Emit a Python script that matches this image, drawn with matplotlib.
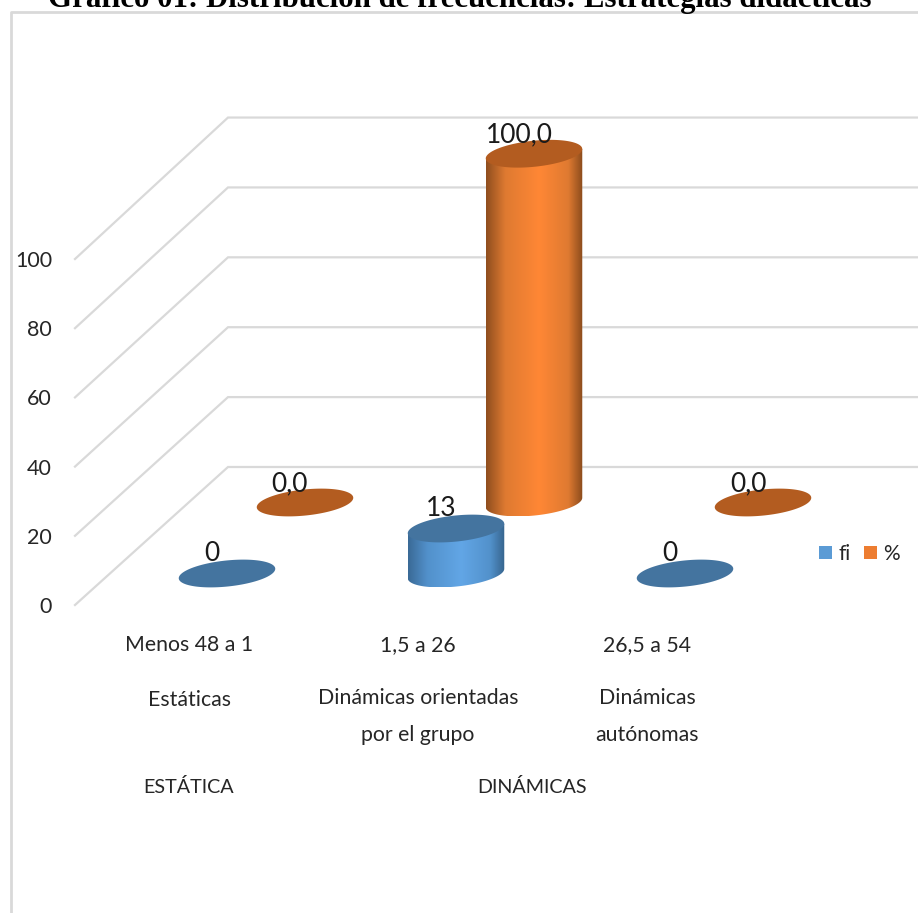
import matplotlib
matplotlib.use("Agg")
import matplotlib.pyplot as plt
from matplotlib.colors import LinearSegmentedColormap
from matplotlib.lines import Line2D
from matplotlib.patches import Patch, Polygon
import numpy as np

plt.rcParams['font.family'] = ['Lato', 'DejaVu Sans']

title = "Gráfico 01: Distribución de frecuencias: Estrategias didácticas"
ranges = ["Menos 48 a 1", "1,5 a 26", "26,5 a 54"]
levels = ["Estáticas", "Dinámicas orientadas\npor el grupo", "Dinámicas\nautónomas"]
groups = ["ESTÁTICA", "DINÁMICAS"]
fi = [0, 13, 0]
pct = [0.0, 100.0, 0.0]
y_ticks = [0, 20, 40, 60, 80, 100]

W, H = 918, 913
AX_LEFT = 60
PX_Y = 3.46  # pixels per value unit
PX_X = 229   # pixels per category

fig = plt.figure(figsize=(W / 100, H / 100), dpi=100, facecolor='white')
ax = fig.add_axes([AX_LEFT / W, 0, 1 - AX_LEFT / W, 1])
ax.set_xlim((AX_LEFT - 227) / PX_X, (W - 227) / PX_X)
ax.set_ylim((605 - H) / PX_Y, 605 / PX_Y)
for s in ax.spines.values():
    s.set_visible(False)
ax.patch.set_alpha(0)
ax.set_xticks([])
ax.set_yticks(y_ticks)
ax.tick_params(axis='y', length=0, pad=5.8, labelsize=15.5, labelcolor='#262626')


def to_x(px):
    return px / PX_X


def to_y(px):
    return px / PX_Y


# floor/wall grid lines, back wall is a touch taller than the front edge
depth_x, depth_y = to_x(153), to_y(138)
x0 = to_x(75 - 227)
x_end = to_x(W - 227)
for v in y_ticks:
    back = v * 1.01 + depth_y
    ax.plot([x0, x0 + depth_x, x_end], [v, back, back],
            color='#d9d9d9', lw=1.6, zorder=1, solid_joinstyle='miter')

A, B, TILT = 48.5, 13, np.radians(6)
T = np.linspace(0, 2 * np.pi, 181)


def ell(t):
    # tilted ellipse outline in pixels, y up
    ex = A * np.cos(t) * np.cos(TILT) - B * np.sin(t) * np.sin(TILT)
    ey = A * np.cos(t) * np.sin(TILT) + B * np.sin(t) * np.cos(TILT)
    return ex, ey


def cylinder(xc, base, value, top_col, cmap, z):
    ex, ey = ell(T)
    if value > 0:
        t_r = np.arctan2(-B * np.sin(TILT), A * np.cos(TILT))
        t_low = np.linspace(t_r - np.pi, t_r, 90)
        lx, ly = ell(t_low)
        px = np.r_[xc + to_x(lx), xc + to_x(lx[-1]), xc + to_x(lx[0])]
        py = np.r_[base + to_y(ly), base + value + to_y(ly[-1]), base + value + to_y(ly[0])]
        body = Polygon(np.c_[px, py], closed=True, transform=ax.transData, fc='none', ec='none')
        ax.add_patch(body)
        im = ax.imshow(np.linspace(0, 1, 256)[None, :], cmap=cmap, aspect='auto',
                       extent=[px.min(), px.max(), py.min(), py.max()], zorder=z)
        im.set_clip_path(body)
    ax.add_patch(Polygon(np.c_[xc + to_x(ex), base + value + to_y(ey)], closed=True,
                         fc=top_col, ec='none', zorder=z + 0.1))


orange = LinearSegmentedColormap.from_list('o', [(0, '#8f4e1e'), (0.2, '#df7a31'), (0.55, '#ff8735'),
                                                 (0.85, '#df7a31'), (1, '#8a4b1c')])
blue = LinearSegmentedColormap.from_list('b', [(0, '#3a6a96'), (0.2, '#5291cb'), (0.55, '#62a6e6'),
                                               (0.85, '#5291cb'), (1, '#36648d')])

# % series sits further back, fi in front
pct_dx, pct_base = to_x(78), to_y(605 - 502.5)
fi_base = to_y(605 - 573.5)
for i, v in enumerate(pct):
    h = v * 1.008
    cylinder(i + pct_dx, pct_base, h, '#b35c20', orange, 3)
    ax.text(i + pct_dx - to_x(15), pct_base + h + to_y(18.5), f"{v:.1f}".replace('.', ','),
            ha='center', va='center', fontsize=19, color='#1a1a1a', zorder=6)
for i, v in enumerate(fi):
    cylinder(i, fi_base, v, '#44749f', blue, 4)
    ax.text(i - to_x(15), fi_base + v + to_y(20), str(v),
            ha='center', va='center', fontsize=19, color='#1a1a1a', zorder=6)

# category labels, three levels
lab_x = -to_x(38)
for i in range(3):
    ax.text(i + lab_x, to_y(605 - 645), ranges[i], ha='center', va='center', fontsize=15.3, color='#262626')
    ax.text(i + lab_x, to_y(605 - 700) if '\n' not in levels[i] else to_y(605 - 716.5), levels[i],
            ha='center', va='center', fontsize=15.3, color='#262626', linespacing=2.05)
ax.text(lab_x, to_y(605 - 787), groups[0], ha='center', va='center', fontsize=14.2, color='#262626')
ax.text(1.5 + lab_x, to_y(605 - 787), groups[1], ha='center', va='center', fontsize=14.2, color='#262626')

ax.legend(handles=[Patch(fc='#5b9bd5', label='fi'), Patch(fc='#ed7d31', label='%')], ncols=2,
          frameon=False, fontsize=15, handlelength=0.62, handleheight=0.62, handletextpad=0.3,
          columnspacing=0.65, labelcolor='#262626',
          loc='center left', bbox_to_anchor=((819 - AX_LEFT) / (W - AX_LEFT), 1 - 554 / H),
          borderaxespad=0, borderpad=0)

# outer chart frame
fig.add_artist(Line2D([10.5 / W, 10.5 / W, 1], [0, 1 - 12.5 / H, 1 - 12.5 / H], color='#d9d9d9', lw=2))

fig.text(460 / W, 1 - 6.5 / H, title, ha='center', va='baseline', fontsize=22.2, fontweight='bold',
         family='Liberation Serif', color='black')

fig.savefig('out.png', dpi=100)
